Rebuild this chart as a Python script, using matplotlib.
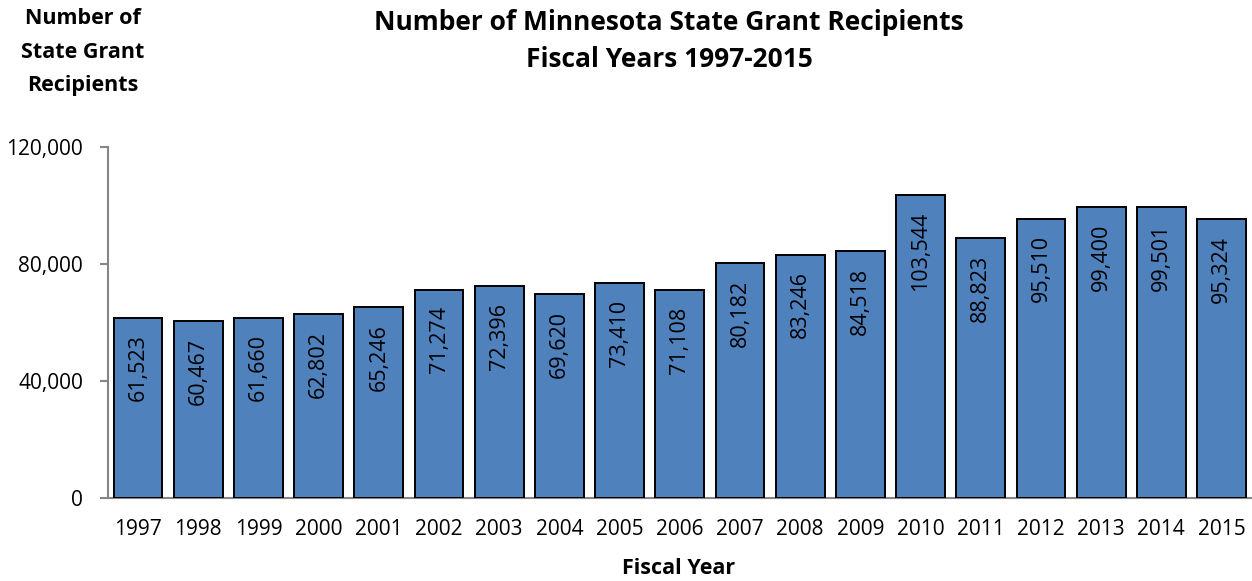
import matplotlib
matplotlib.use("Agg")
import matplotlib.pyplot as plt
from matplotlib.ticker import FuncFormatter

years = ["1997", "1998", "1999", "2000", "2001", "2002", "2003", "2004", "2005", "2006",
         "2007", "2008", "2009", "2010", "2011", "2012", "2013", "2014", "2015"]
recipients = [61523, 60467, 61660, 62802, 65246, 71274, 72396, 69620, 73410, 71108,
              80182, 83246, 84518, 103544, 88823, 95510, 99400, 99501, 95324]
yticks = [0, 40000, 80000, 120000]

plt.rcParams['font.family'] = ['Open Sans', 'DejaVu Sans']

fig = plt.figure(figsize=(12.52, 5.81), dpi=100)
ax = fig.add_axes([108 / 1252, 1 - 498 / 581, (1251.6 - 108) / 1252, (498 - 147) / 581])

x = list(range(len(years)))
bars = ax.bar(x, recipients, width=0.81, color="#4F81BD", edgecolor="black", linewidth=1.4, zorder=3)

for xi, v in zip(x, recipients):
    ax.annotate(f"{v:,}", xy=(xi, v), xytext=(0, -12), textcoords="offset points",
                rotation=90, ha="center", va="top", fontsize=15.5, color="black", zorder=4)

ax.set_xlim(-0.5, len(years) - 0.5)
ax.set_ylim(0, 120000)
ax.set_yticks(yticks)
ax.yaxis.set_major_formatter(FuncFormatter(lambda v, p: f"{int(v):,}"))
ax.set_xticks(x)
ax.set_xticklabels(years)
ax.tick_params(axis="x", length=0, pad=15, labelsize=15)
ax.tick_params(axis="y", length=6, width=1.5, color="#868686", pad=12, labelsize=15)

for s in ["top", "right"]:
    ax.spines[s].set_visible(False)
for s in ["left", "bottom"]:
    ax.spines[s].set_color("#868686")
    ax.spines[s].set_linewidth(1.5)

fig.text(669 / 1252, 1 - 41 / 581, "Number of Minnesota State Grant Recipients\nFiscal Years 1997-2015",
         ha="center", va="center", fontsize=19, fontweight="bold", linespacing=1.5)
fig.text(83 / 1252, 1 - 52 / 581, "Number of\nState Grant\nRecipients",
         ha="center", va="center", fontsize=15.5, fontweight="bold", linespacing=1.75)
fig.text(679 / 1252, 1 - 569 / 581, "Fiscal Year", ha="center", va="center",
         fontsize=15.5, fontweight="bold")

fig.savefig("out.png", dpi=100)
